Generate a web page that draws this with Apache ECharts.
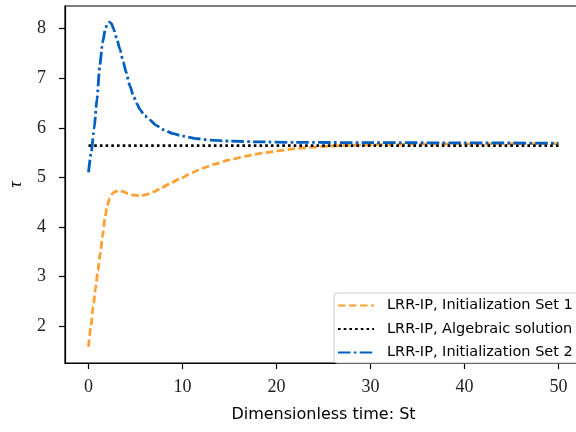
<!DOCTYPE html>
<html>
<head>
<meta charset="utf-8">
<script src="https://cdn.jsdelivr.net/npm/echarts@6/dist/echarts.min.js"></script>
<style>
  html, body { margin: 0; padding: 0; background: #fff; }
  #chart { width: 576px; height: 432px; }
</style>
</head>
<body>
<div id="chart"></div>
<script>
// Dimensionless time St and relaxation variable tau for each run
const t1   = [0, 0.25, 0.5, 0.75, 1.0, 1.25, 1.5, 1.75, 2.0, 2.25, 2.5, 2.8, 3.2, 3.7, 4.2, 4.8, 5.5, 6.2, 7.0, 7.8, 8.7, 9.8, 11.1, 12.2, 13.3, 15, 16.8, 18.5, 20.4, 22, 23.9, 25.5, 27.5, 31, 35, 40, 50];
const tau1 = [1.58, 1.98, 2.39, 2.76, 3.12, 3.47, 3.82, 4.18, 4.43, 4.58, 4.66, 4.71, 4.73, 4.71, 4.67, 4.64, 4.63, 4.655, 4.71, 4.79, 4.88, 4.98, 5.10, 5.19, 5.26, 5.35, 5.43, 5.49, 5.54, 5.58, 5.61, 5.63, 5.645, 5.66, 5.67, 5.675, 5.68];

const tAlg   = [0, 50];
const tauAlg = [5.64, 5.64];

const t2   = [0, 0.3, 0.6, 0.9, 1.2, 1.5, 1.8, 2.0, 2.2, 2.45, 2.7, 3.0, 3.35, 3.7, 4.0, 4.4, 4.8, 5.2, 5.5, 6.0, 6.5, 7.2, 8.0, 9.0, 10, 11.5, 13, 15, 18, 22, 30, 40, 50];
const tau2 = [5.10, 5.52, 5.98, 6.58, 7.25, 7.72, 8.00, 8.10, 8.13, 8.10, 7.98, 7.80, 7.58, 7.33, 7.12, 6.85, 6.63, 6.47, 6.36, 6.24, 6.16, 6.05, 5.96, 5.88, 5.83, 5.78, 5.75, 5.73, 5.715, 5.705, 5.70, 5.695, 5.69];

const xTicks = [0, 10, 20, 30, 40, 50];
const yTicks = [2, 3, 4, 5, 6, 7, 8];

const names = [
  'LRR-IP, Initialization Set 1',
  'LRR-IP, Algebraic solution',
  'LRR-IP, Initialization Set 2'
];

const pairs = (xs, ys) => xs.map((x, i) => [x, ys[i]]);

const serif = 'Liberation Serif, DejaVu Serif, serif';
const sans = 'DejaVu Sans, Liberation Sans, sans-serif';

const chart = echarts.init(document.getElementById('chart'), null, { renderer: 'canvas' });

chart.setOption({
  animation: false,
  backgroundColor: '#fff',
  grid: {
    left: 65, top: 6, width: 517, height: 357,
    outerBoundsMode: 'none', containLabel: false,
    show: true, borderColor: '#000', borderWidth: 1.2
  },
  xAxis: {
    type: 'value', min: -2.5, max: 52.5,
    name: 'Dimensionless time: St', nameLocation: 'middle', nameGap: 44,
    nameTextStyle: { fontFamily: sans, fontSize: 16, color: '#000' },
    axisLine: { show: true, onZero: false, lineStyle: { color: '#000', width: 1.2 } },
    axisTick: { show: true, length: 6, customValues: xTicks, lineStyle: { color: '#000', width: 1.2 } },
    axisLabel: { customValues: xTicks, margin: 15, fontFamily: serif, fontSize: 18, color: '#222' },
    splitLine: { show: false }
  },
  yAxis: {
    type: 'value', min: 1.2525, max: 8.4575,
    name: 'τ', nameLocation: 'middle', nameGap: 40, nameRotate: 90,
    nameTextStyle: { fontFamily: serif, fontStyle: 'italic', fontSize: 18, color: '#000' },
    axisLine: { show: true, onZero: false, lineStyle: { color: '#000', width: 1.2 } },
    axisTick: { show: true, length: 6, customValues: yTicks, lineStyle: { color: '#000', width: 1.2 } },
    axisLabel: { customValues: yTicks, margin: 19, fontFamily: serif, fontSize: 18, color: '#222' },
    splitLine: { show: false }
  },
  legend: {
    orient: 'vertical', left: 334, top: 293,
    itemWidth: 36, itemHeight: 12, itemGap: 8.5,
    padding: [5, 30, 3, 3],
    backgroundColor: 'rgba(255,255,255,0.85)',
    borderColor: '#cccccc', borderWidth: 1, borderRadius: 3,
    itemStyle: { opacity: 0 },
    textStyle: { fontFamily: sans, fontSize: 14.5, color: '#000', padding: [0, 0, 0, 8] },
    data: names
  },
  series: [
    {
      name: names[0], type: 'line', data: pairs(t1, tau1),
      smooth: 0.2, smoothMonotone: 'x', symbol: 'none',
      lineStyle: { color: '#ffa033', width: 2.8, type: [7.5, 3.5] },
      itemStyle: { color: '#ffa033' }
    },
    {
      name: names[1], type: 'line', data: pairs(tAlg, tauAlg),
      symbol: 'none',
      lineStyle: { color: '#000', width: 2.8, type: [2.6, 3.1] },
      itemStyle: { color: '#000' }
    },
    {
      name: names[2], type: 'line', data: pairs(t2, tau2),
      smooth: 0.2, smoothMonotone: 'x', symbol: 'none',
      lineStyle: { color: '#005fbf', width: 2.8, type: [12.5, 3.3, 2.6, 3.3] },
      itemStyle: { color: '#005fbf' }
    }
  ]
});
</script>
</body>
</html>
